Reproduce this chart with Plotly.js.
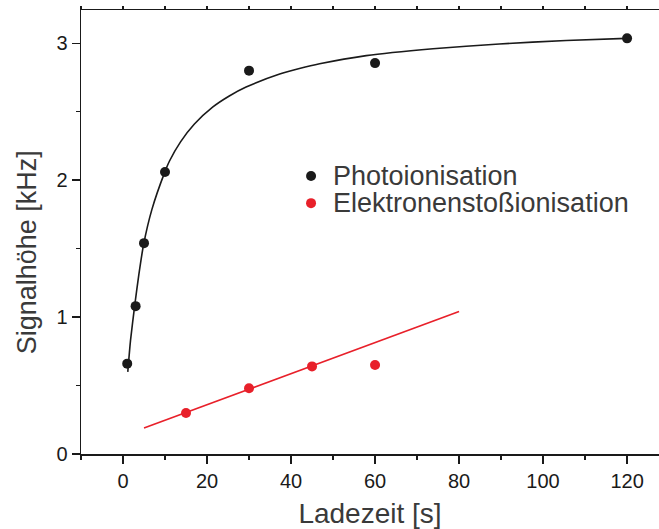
<!DOCTYPE html>
<html>
<head>
<meta charset="utf-8">
<script src="https://cdn.plot.ly/plotly-3.0.1.min.js"></script>
<style>
  html, body { margin: 0; padding: 0; background: #ffffff; }
  #chart { width: 659px; height: 529px; }
</style>
</head>
<body>
<div id="chart"></div>
<script>
// Measured signal heights vs. loading time
const photoTime   = [1, 3, 5, 10, 30, 60, 120];
const photoSignal = [0.66, 1.08, 1.54, 2.06, 2.80, 2.855, 3.036];

const elecTime   = [15, 30, 45, 60];
const elecSignal = [0.30, 0.48, 0.64, 0.65];

// Saturation fit through the photoionisation data
const photoFitTime   = [1.14, 1.79, 2.85, 3.77, 4.9, 6.87, 9.9, 11.07, 13.7, 17.0, 21.4, 25.3, 29.3, 37.3, 42.0, 46.8, 57.9, 73.8, 89.6, 105.5, 119.8];
const photoFitSignal = [0.60, 0.83, 1.10, 1.31, 1.53, 1.785, 2.055, 2.14, 2.28, 2.41, 2.535, 2.615, 2.68, 2.775, 2.815, 2.85, 2.91, 2.96, 2.995, 3.02, 3.036];

// Linear fit through the electron-impact data
const elecFitTime   = [5, 80];
const elecFitSignal = [0.19, 1.04];

const legendLabels = ['Photoionisation', 'Elektronenstoßionisation'];
const xTitle = 'Ladezeit [s]';
const yTitle = 'Signalhöhe [kHz]';

const BLACK = '#1a1a1a';
const RED = '#e8202a';
const TEXT = '#3a3a3a';
const FONT = '"Liberation Sans", Arial, Helvetica, sans-serif';

const traces = [
  { x: photoFitTime, y: photoFitSignal, type: 'scatter', mode: 'lines',
    line: { color: BLACK, width: 1.6, shape: 'spline', smoothing: 0.6 },
    hoverinfo: 'skip', showlegend: false },
  { x: elecFitTime, y: elecFitSignal, type: 'scatter', mode: 'lines',
    line: { color: RED, width: 1.6 }, hoverinfo: 'skip', showlegend: false },
  { x: photoTime, y: photoSignal, type: 'scatter', mode: 'markers',
    name: legendLabels[0], marker: { color: BLACK, size: 10 }, showlegend: false },
  { x: elecTime, y: elecSignal, type: 'scatter', mode: 'markers',
    name: legendLabels[1], marker: { color: RED, size: 10 }, showlegend: false },
  // top frame line with small tick marks
  { x: [], y: [], xaxis: 'x2', yaxis: 'y', type: 'scatter', showlegend: false, hoverinfo: 'skip' }
];

const axisCommon = {
  showgrid: false, zeroline: false, showline: true,
  linecolor: BLACK, linewidth: 1.5,
  ticks: 'outside', tickcolor: BLACK, tickwidth: 1.5, ticklen: 8,
  tickfont: { family: FONT, size: 20, color: BLACK }
};

// legend glyphs and labels, positioned in paper space
const legendRows = [
  { color: BLACK, y: 0.626, text: legendLabels[0] },
  { color: RED,   y: 0.565, text: legendLabels[1] }
];
const markerX = 0.398;
const rPx = 5;

const shapes = legendRows.map(r => ({
  type: 'circle', xref: 'paper', yref: 'paper',
  xsizemode: 'pixel', ysizemode: 'pixel',
  xanchor: markerX, yanchor: r.y,
  x0: -rPx, x1: rPx, y0: -rPx, y1: rPx,
  fillcolor: r.color, line: { width: 0 }
}));

const annotations = legendRows.map(r => ({
  xref: 'paper', yref: 'paper', x: 0.432, y: r.y,
  xanchor: 'left', yanchor: 'middle', showarrow: false,
  height: 26, valign: 'middle',
  text: r.text, font: { family: FONT, size: 27, color: TEXT }
}));
annotations.push({
  xref: 'paper', yref: 'paper', x: -0.092, y: 0.454,
  xanchor: 'center', yanchor: 'middle', showarrow: false, textangle: -90,
  text: yTitle, font: { family: FONT, size: 27, color: TEXT }
});

const layout = {
  width: 659, height: 529,
  margin: { l: 81, r: 0, t: 10, b: 75 },
  paper_bgcolor: '#ffffff', plot_bgcolor: '#ffffff',
  showlegend: false,
  xaxis: Object.assign({}, axisCommon, {
    range: [-10, 127.6], tick0: 0, dtick: 20,
    minor: { dtick: 10, tick0: 0, ticks: 'outside', ticklen: 4, tickcolor: BLACK, tickwidth: 1.5 },
    title: { text: xTitle, font: { family: FONT, size: 28, color: TEXT }, standoff: 14 }
  }),
  xaxis2: {
    overlaying: 'x', side: 'top', anchor: 'y', matches: 'x',
    range: [-10, 127.6], tick0: 0, dtick: 10,
    showgrid: false, zeroline: false, showline: true,
    linecolor: BLACK, linewidth: 1.5,
    ticks: 'outside', ticklen: 3, tickcolor: BLACK, tickwidth: 1.2,
    showticklabels: false
  },
  yaxis: Object.assign({}, axisCommon, {
    range: [0, 3.243], tick0: 0, dtick: 1,
    minor: { dtick: 0.5, tick0: 0, ticks: 'outside', ticklen: 4, tickcolor: BLACK, tickwidth: 1.5 }
  }),
  shapes: shapes,
  annotations: annotations
};

Plotly.newPlot('chart', traces, layout, { displayModeBar: false, staticPlot: true });
</script>
</body>
</html>
